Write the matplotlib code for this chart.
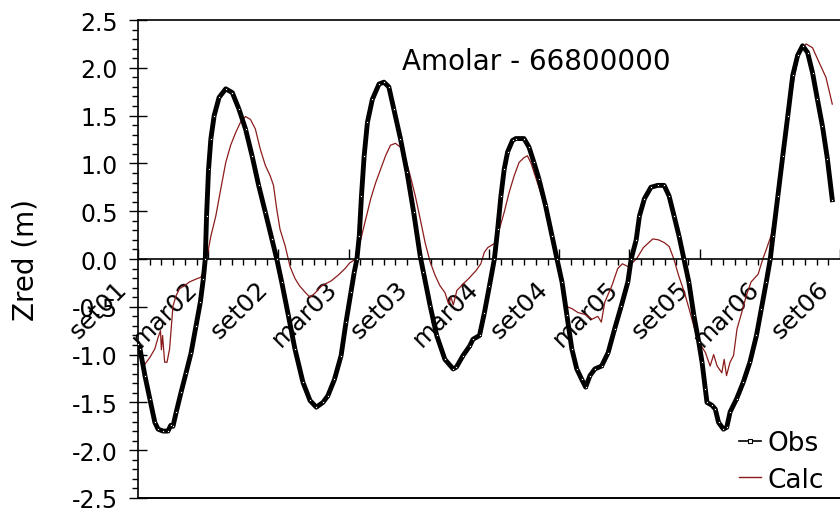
import matplotlib
matplotlib.use("Agg")
import matplotlib.pyplot as plt
import matplotlib.transforms as mtransforms
from matplotlib.lines import Line2D
import numpy as np

plt.rcParams['font.family'] = ['DejaVu Sans']
plt.rcParams['axes.unicode_minus'] = False

# months counted from set/2001
obs_mes = [0.00, 0.17, 0.59, 1.01, 1.44, 1.72, 2.14, 2.56, 2.80, 2.99, 3.27, 3.69,
           4.11, 4.54, 4.96, 5.33, 5.58, 5.75, 5.86, 6.03, 6.23, 6.51, 6.93, 7.50,
           8.06, 8.62, 9.19, 9.75, 10.31, 10.88, 11.44, 11.86, 12.28, 12.85, 13.41,
           14.10, 14.70, 15.24, 15.81, 16.23, 16.79, 17.36, 17.78, 18.20, 18.48,
           18.71, 18.91, 19.10, 19.33, 19.61, 20.03, 20.60, 21.02, 21.44, 21.86,
           22.43, 22.99, 23.56, 24.12, 24.40, 24.97, 25.53, 26.23, 26.94, 27.22,
           27.78, 28.35, 28.63, 29.19, 29.61, 30.04, 30.46, 30.74, 31.02, 31.30,
           31.59, 32.01, 32.29, 32.99, 33.42, 33.84, 34.26, 34.83, 35.39, 35.81,
           36.24, 36.66, 37.08, 37.50, 37.93, 38.26, 38.63, 39.05, 39.62, 40.18,
           40.74, 41.31, 41.87, 42.15, 42.58, 42.86, 43.28, 43.84, 44.41, 44.97,
           45.39, 45.82, 46.24, 46.66, 47.08, 47.51, 47.93, 48.21, 48.49, 48.63,
           49.05, 49.34, 49.62, 50.04, 50.32, 50.61, 51.17, 51.73, 52.30, 52.86,
           53.28, 53.70, 54.04, 54.27, 54.69, 55.11, 55.54, 55.96, 56.38, 56.80,
           57.23, 57.65, 58.07, 58.50, 58.92, 59.34]
obs = [-0.89, -0.94, -1.22, -1.46, -1.71, -1.78, -1.80, -1.80, -1.74, -1.75, -1.60, -1.39,
       -1.19, -0.98, -0.70, -0.45, -0.21, 0.00, 0.45, 0.94, 1.26, 1.50, 1.69, 1.78,
       1.74, 1.57, 1.36, 1.08, 0.77, 0.49, 0.21, 0.00, -0.24, -0.59, -0.94,
       -1.29, -1.48, -1.55, -1.50, -1.43, -1.26, -1.01, -0.66, -0.35, -0.14,
       0.00, 0.24, 0.66, 1.08, 1.43, 1.67, 1.83, 1.85, 1.80, 1.57,
       1.26, 0.91, 0.49, 0.03, -0.14, -0.49, -0.80, -1.05, -1.15, -1.13,
       -1.01, -0.91, -0.84, -0.80, -0.56, -0.28, 0.00, 0.31, 0.66, 0.94,
       1.12, 1.24, 1.26, 1.26, 1.17, 1.01, 0.84, 0.56, 0.24, 0.00,
       -0.24, -0.59, -0.94, -1.15, -1.26, -1.34, -1.22, -1.15, -1.12, -0.98,
       -0.73, -0.49, -0.24, 0.00, 0.20, 0.45, 0.63, 0.75, 0.77, 0.77,
       0.66, 0.45, 0.24, 0.00, -0.24, -0.59, -0.87, -1.08, -1.36, -1.50,
       -1.53, -1.57, -1.71, -1.78, -1.76, -1.60, -1.46, -1.29, -1.08, -0.80,
       -0.52, -0.24, 0.00, 0.24, 0.66, 1.08, 1.50, 1.92, 2.13, 2.23,
       2.16, 1.95, 1.67, 1.39, 1.05, 0.62]

calc_mes = [0.59, 1.01, 1.44, 1.72, 1.92, 2.00, 2.10, 2.28, 2.48, 2.70, 2.85, 2.99,
            3.27, 3.55, 3.97, 4.40, 4.96, 5.38, 5.66, 5.86, 6.23, 6.65, 7.07, 7.50,
            7.92, 8.34, 8.76, 9.19, 9.61, 10.03, 10.45, 10.88, 11.30, 11.58, 11.86,
            12.14, 12.57, 13.00, 13.40, 13.80, 14.30, 14.70, 15.10, 15.70, 16.50,
            17.10, 17.70, 18.10, 18.62, 19.05, 19.47, 19.89, 20.32, 20.74, 21.16,
            21.58, 22.00, 22.43, 22.85, 23.27, 23.70, 24.12, 24.54, 24.97, 25.39,
            25.81, 26.23, 26.55, 26.75, 26.95, 27.25, 27.80, 28.30, 28.90, 29.30,
            29.60, 29.90, 30.30, 30.60, 30.88, 31.30, 31.73, 32.15, 32.57, 32.99,
            33.28, 33.60, 34.00, 34.80, 35.40, 35.90, 36.30, 36.50, 37.10, 37.60,
            38.20, 38.80, 39.30, 39.60, 39.90, 40.50, 41.00, 41.40, 41.90, 42.60,
            43.20, 44.00, 44.50, 45.00, 45.40, 45.80, 46.20, 46.70, 47.10, 47.50,
            47.90, 48.20, 48.50, 48.90, 49.20, 49.50, 49.90, 50.10, 50.30, 50.60,
            50.90, 51.20, 51.60, 52.00, 52.40, 53.00, 53.40, 53.70, 54.10, 54.50,
            55.00, 55.40, 55.96, 56.50, 57.10, 57.65, 58.20, 58.80, 59.34]
calc = [-1.10, -1.03, -0.94, -0.82, -0.75, -0.95, -0.80, -1.08, -1.08, -0.94, -0.70, -0.49,
        -0.38, -0.31, -0.28, -0.24, -0.21, -0.19, -0.10, 0.00, 0.24, 0.45, 0.73, 1.01,
        1.19, 1.32, 1.43, 1.49, 1.46, 1.36, 1.15, 0.98, 0.87, 0.77, 0.52,
        0.31, 0.14, -0.08, -0.20, -0.28, -0.35, -0.40, -0.36, -0.28, -0.23,
        -0.17, -0.10, -0.04, 0.00, 0.21, 0.42, 0.63, 0.80, 0.94, 1.08,
        1.19, 1.21, 1.17, 1.05, 0.87, 0.66, 0.42, 0.17, -0.03, -0.17,
        -0.28, -0.35, -0.47, -0.40, -0.48, -0.33, -0.26, -0.20, -0.12, -0.05,
        0.07, 0.12, 0.15, 0.17, 0.31, 0.49, 0.70, 0.87, 1.01, 1.06,
        1.08, 1.00, 0.85, 0.55, 0.25, -0.02, -0.30, -0.49, -0.52, -0.56,
        -0.58, -0.63, -0.60, -0.66, -0.45, -0.28, -0.10, -0.05, -0.08, 0.00,
        0.12, 0.21, 0.20, 0.17, 0.13, 0.00, -0.17, -0.35, -0.52, -0.70,
        -0.87, -0.92, -0.98, -1.12, -1.00, -1.12, -1.19, -1.05, -1.22, -1.08,
        -1.01, -0.73, -0.56, -0.38, -0.24, -0.16, 0.00, 0.10, 0.24, 0.52,
        0.94, 1.36, 1.81, 2.16, 2.25, 2.21, 2.06, 1.90, 1.62]

xtick_mes = [0, 6, 12, 18, 24, 30, 36, 42, 48, 54, 60]
xtick_lab = ['set01', 'mar02', 'set02', 'mar03', 'set03', 'mar04', 'set04',
             'mar05', 'set05', 'mar06', 'set06']

calc_cor = '#8B1C1C'

fig = plt.figure(figsize=(8.4, 5.1), dpi=100)
ax = fig.add_axes([138/840, 11/510, 702/840, 478/510])

ax.plot(calc_mes, calc, color=calc_cor, lw=0.9, zorder=2)
ax.plot(obs_mes, obs, color='black', lw=3.5, marker='s', ms=2.0,
        mfc='white', mec='black', mew=0.6, zorder=3)

ax.set_xlim(0, 59.34)
ax.set_ylim(-2.5, 2.5)

ax.spines['right'].set_visible(False)
ax.spines['bottom'].set_position(('data', 0))
for s in ['left', 'top', 'bottom']:
    ax.spines[s].set_linewidth(1.2)
# linha de moldura inferior
ax.plot([0, 1], [0, 0], transform=ax.transAxes, color='black', lw=1.4, clip_on=False)

ax.set_xticks(xtick_mes)
ax.set_xticks(np.arange(0, 60), minor=True)
ax.set_xticklabels(xtick_lab, rotation=45, ha='right', va='top',
                   rotation_mode='anchor', fontsize=18)
ax.tick_params(axis='x', which='major', direction='in', length=7, width=1, pad=12)
ax.tick_params(axis='x', which='minor', direction='out', length=4.5, width=1)
shift = mtransforms.ScaledTranslation(-0.23, 0, fig.dpi_scale_trans)
for lab in ax.get_xticklabels():
    lab.set_transform(lab.get_transform() + shift)

ax.set_yticks(np.arange(-2.5, 2.51, 0.5))
ax.set_yticks(np.arange(-2.5, 2.51, 0.1), minor=True)
ax.set_yticklabels(['%.1f' % v for v in np.arange(-2.5, 2.51, 0.5)])
ax.tick_params(axis='y', which='major', direction='inout', length=13, width=1,
               labelsize=17, pad=8)
ax.tick_params(axis='y', which='minor', direction='out', length=4.5, width=1)

ax.set_ylabel('Zred (m)', fontsize=20)
ax.yaxis.set_label_coords(-0.14, 0.5)

ax.text(0.5677, 0.8975, 'Amolar - 66800000', transform=ax.transAxes,
        ha='center', va='baseline', fontsize=20)

h_obs = Line2D([], [], color='black', lw=1.2, marker='s', ms=3.5,
               mfc='white', mec='black', mew=0.8)
h_calc = Line2D([], [], color=calc_cor, lw=1.0)
ax.legend([h_obs, h_calc], ['Obs', 'Calc'], loc='lower right',
          bbox_to_anchor=(0.985, 0.0), frameon=False, fontsize=19,
          handlelength=0.85, handletextpad=0.25, labelspacing=0.4,
          borderpad=0.2, borderaxespad=0)

fig.savefig('out.png', dpi=100, facecolor='white')
